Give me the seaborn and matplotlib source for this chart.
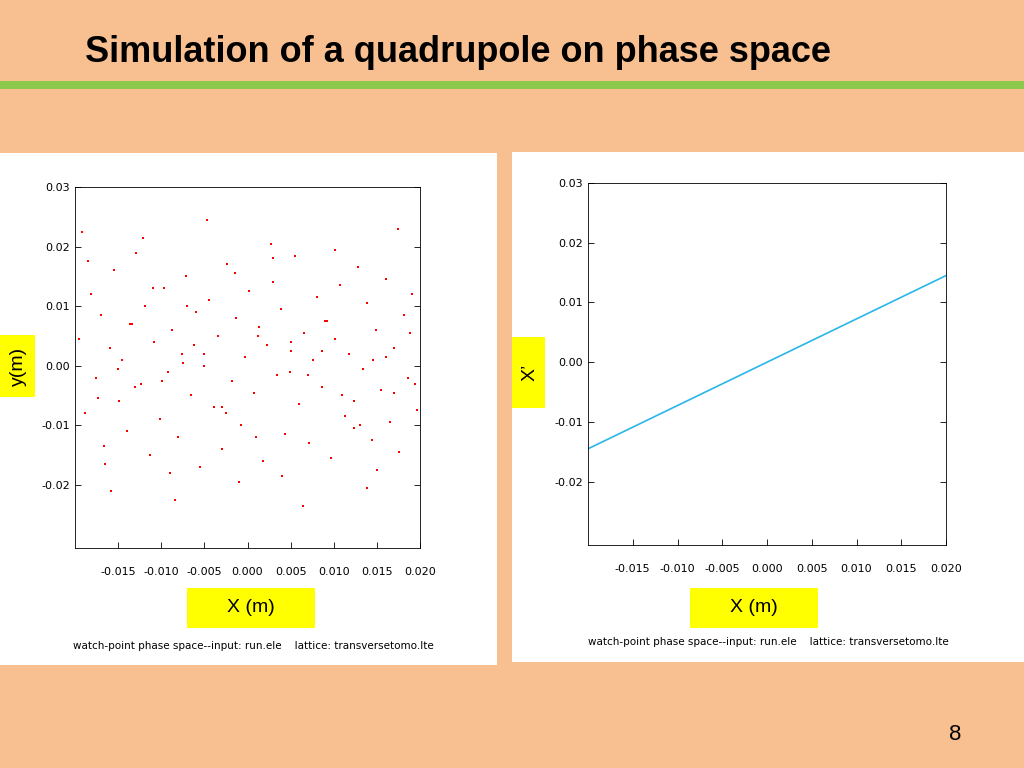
import matplotlib
matplotlib.use("Agg")
import matplotlib.pyplot as plt
import seaborn as sns

# scatter of particles (left panel), hand-read sample of the cloud
scatter_x = [-0.0195, -0.0188, -0.0181, -0.0176, -0.0170, -0.0166, -0.0160, -0.0155, -0.0149, -0.0145,
             -0.0140, -0.0134, -0.0129, -0.0124, -0.0119, -0.0113, -0.0108, -0.0102, -0.0097, -0.0092,
             -0.0087, -0.0081, -0.0076, -0.0071, -0.0066, -0.0060, -0.0055, -0.0050, -0.0045, -0.0039,
             -0.0034, -0.0029, -0.0024, -0.0018, -0.0013, -0.0008, -0.0003, 0.0002, 0.0008, 0.0013,
             0.0018, 0.0023, 0.0029, 0.0034, 0.0039, 0.0044, 0.0050, 0.0055, 0.0060, 0.0065,
             0.0071, 0.0076, 0.0081, 0.0086, 0.0092, 0.0097, 0.0102, 0.0107, 0.0113, 0.0118,
             0.0123, 0.0128, 0.0134, 0.0139, 0.0144, 0.0149, 0.0155, 0.0160, 0.0165, 0.0170,
             0.0176, 0.0181, 0.0186, 0.0191, 0.0197, -0.0192, -0.0158, -0.0121, -0.0084, -0.0047,
             -0.0010, 0.0027, 0.0064, 0.0101, 0.0138, 0.0175, -0.0173, -0.0136, -0.0099, -0.0062,
             -0.0025, 0.0012, 0.0049, 0.0086, 0.0123, 0.0160, 0.0194, -0.0150, -0.0070, 0.0010,
             0.0090, 0.0170, -0.0110, -0.0030, 0.0050, 0.0130, -0.0185, -0.0090, 0.0030, 0.0150,
             -0.0130, -0.0050, 0.0070, 0.0188, -0.0165, -0.0015, 0.0110, -0.0075, 0.0040, 0.0145]
scatter_y = [0.0045, -0.0080, 0.0120, -0.0020, 0.0085, -0.0135, 0.0030, 0.0160, -0.0060, 0.0010,
             -0.0110, 0.0070, 0.0190, -0.0030, 0.0100, -0.0150, 0.0040, -0.0090, 0.0130, -0.0010,
             0.0060, -0.0120, 0.0020, 0.0150, -0.0050, 0.0090, -0.0170, 0.0000, 0.0110, -0.0070,
             0.0050, -0.0140, 0.0170, -0.0025, 0.0080, -0.0100, 0.0015, 0.0125, -0.0045, 0.0065,
             -0.0160, 0.0035, 0.0140, -0.0015, 0.0095, -0.0115, 0.0025, 0.0185, -0.0065, 0.0055,
             -0.0130, 0.0010, 0.0115, -0.0035, 0.0075, -0.0155, 0.0045, 0.0135, -0.0085, 0.0020,
             -0.0105, 0.0165, -0.0005, 0.0105, -0.0125, 0.0060, -0.0040, 0.0145, -0.0095, 0.0030,
             -0.0145, 0.0085, -0.0020, 0.0120, -0.0075, 0.0225, -0.0210, 0.0215, -0.0225, 0.0245,
             -0.0195, 0.0205, -0.0235, 0.0195, -0.0205, 0.0230, -0.0055, 0.0070, -0.0025, 0.0035,
             -0.0080, 0.0050, -0.0010, 0.0025, -0.0060, 0.0015, -0.0030, -0.0005, 0.0100, -0.0120,
             0.0075, -0.0045, 0.0130, -0.0070, 0.0040, -0.0100, 0.0175, -0.0180, 0.0180, -0.0175,
             -0.0035, 0.0020, -0.0015, 0.0055, -0.0165, 0.0155, -0.0050, 0.0005, -0.0185, 0.0010]

# linear phase space (right panel)
line_x = [-0.02, 0.02]
line_y = [-0.0145, 0.0145]

x_ticks = [-0.015, -0.010, -0.005, 0.000, 0.005, 0.010, 0.015, 0.020]
y_ticks = [-0.02, -0.01, 0.00, 0.01, 0.02, 0.03]

BG = "#F8C091"
W, H = 1024, 768

fig = plt.figure(figsize=(10.24, 7.68), dpi=100)
fig.patch.set_facecolor(BG)


def box(x0, y0, x1, y1):
    # pixel rect (top-left origin) -> figure coords
    return [x0 / W, 1 - y1 / H, (x1 - x0) / W, (y1 - y0) / H]


def fig_text(x, y, s, **kw):
    fig.text(x / W, 1 - y / H, s, **kw)


# title + green rule
fig_text(85, 52, "Simulation of a quadrupole on phase space", fontsize=26,
         fontweight="bold", family="Liberation Sans", va="center")
rule = fig.add_axes(box(0, 81, 1024, 89))
rule.set_facecolor("#8CC84B")
rule.set_xticks([]); rule.set_yticks([])
for s in rule.spines.values():
    s.set_visible(False)

# white panels
for b in [(0, 153, 497, 665), (512, 152, 1024, 662)]:
    p = fig.add_axes(box(*b))
    p.set_facecolor("white")
    p.set_xticks([]); p.set_yticks([])
    for s in p.spines.values():
        s.set_visible(False)


def style(ax):
    ax.set_xlim(-0.02, 0.02)
    ax.set_ylim(-0.0306, 0.03)
    ax.set_xticks(x_ticks)
    ax.set_xticklabels([f"{v:.3f}" for v in x_ticks])
    ax.set_yticks(y_ticks)
    ax.set_yticklabels([f"{v:.2f}" for v in y_ticks])
    ax.tick_params(direction="in", labelsize=8, right=True, length=4, width=0.6)
    ax.tick_params(axis="x", pad=14)
    for s in ax.spines.values():
        s.set_linewidth(0.6)
    ax.set_facecolor("white")


ax1 = fig.add_axes(box(75, 187, 420, 548))
sns.scatterplot(x=scatter_x, y=scatter_y, ax=ax1, color="red", s=3, linewidth=0, marker="s")
style(ax1)

ax2 = fig.add_axes(box(588, 183, 946, 545))
sns.lineplot(x=line_x, y=line_y, ax=ax2, color="#29B6E8", linewidth=1.2)
style(ax2)

# yellow label boxes
for (x0, y0, x1, y1) in [(0, 335, 35, 397), (512, 337, 545, 408),
                         (187, 588, 315, 628), (690, 588, 818, 628)]:
    a = fig.add_axes(box(x0, y0, x1, y1))
    a.set_facecolor("#FFFF00")
    a.set_xticks([]); a.set_yticks([])
    for s in a.spines.values():
        s.set_visible(False)
fig_text(18, 366, "y(m)", fontsize=14, family="Liberation Sans", rotation=90, ha="center", va="center")
fig_text(530, 372, "X’", fontsize=14, family="Liberation Sans", rotation=90, ha="center", va="center")
fig_text(251, 608, "X (m)", fontsize=14, family="Liberation Sans", ha="center", va="center")
fig_text(754, 608, "X (m)", fontsize=14, family="Liberation Sans", ha="center", va="center")

fig_text(73, 646, "watch-point phase space--input: run.ele    lattice: transversetomo.lte",
         fontsize=7.5, va="center")
fig_text(588, 642, "watch-point phase space--input: run.ele    lattice: transversetomo.lte",
         fontsize=7.5, va="center")

fig_text(955, 735, "8", fontsize=16, family="Liberation Sans", ha="center", va="center")

fig.savefig("out.png", dpi=100, facecolor=BG)
